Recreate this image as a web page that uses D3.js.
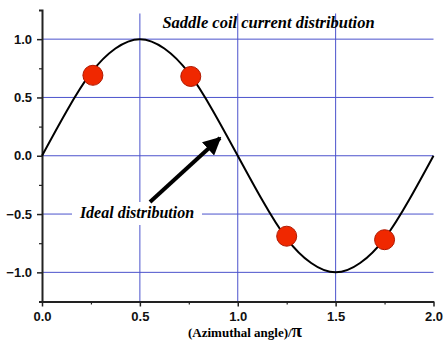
<!DOCTYPE html>
<html>
<head>
<meta charset="utf-8">
<script src="https://cdn.jsdelivr.net/npm/d3@7"></script>
<style>
  body { margin: 0; background: #fff; }
  svg { display: block; }
  .tk text { font-family: "Liberation Sans", Arial, sans-serif; font-weight: bold; font-size: 13px; fill: #111; }
  .serif { font-family: "Liberation Serif", "Times New Roman", serif; font-weight: bold; }
  .it { font-style: italic; }
</style>
</head>
<body>
<svg id="chart" width="444" height="347"></svg>
<script>
// ideal distribution, every 0.125
const curveX = [0, 0.125, 0.25, 0.375, 0.5, 0.625, 0.75, 0.875, 1.0, 1.125, 1.25, 1.375, 1.5, 1.625, 1.75, 1.875, 2.0];
const curveY = [0, 0.38, 0.71, 0.92, 1.0, 0.92, 0.71, 0.38, 0, -0.38, -0.71, -0.92, -1.0, -0.92, -0.71, -0.38, 0];
// measured saddle coil points
const pointX = [0.26, 0.76, 1.25, 1.75];
const pointY = [0.69, 0.68, -0.69, -0.72];
const xTicks = [0, 0.5, 1.0, 1.5, 2.0];
const yTicks = [-1.0, -0.5, 0, 0.5, 1.0];
const xMinor = [0.25, 0.75, 1.25, 1.75];
const yMinor = [-0.75, -0.25, 0.25, 0.75];

const svg = d3.select('#chart');
const x = d3.scaleLinear().domain([0, 2]).range([42, 433.5]);
const y = d3.scaleLinear().domain([-1.25, 1.25]).range([301.5, 10]);
const gridColor = '#4b52cc';
const fmt = d3.format('.1f');

// grid
svg.append('g')
  .selectAll('line')
  .data(yTicks)
  .join('line')
  .attr('x1', x(0)).attr('x2', x(2))
  .attr('y1', d => y(d)).attr('y2', d => y(d))
  .attr('stroke', gridColor).attr('stroke-width', 1);

svg.append('g')
  .selectAll('line')
  .data([0.5, 1.0, 1.5])
  .join('line')
  .attr('x1', d => x(d)).attr('x2', d => x(d))
  .attr('y1', y(1.22)).attr('y2', y(-1.25))
  .attr('stroke', gridColor).attr('stroke-width', 1);

// axes
svg.append('g')
  .attr('class', 'tk')
  .attr('transform', `translate(0,${y(-1.25)})`)
  .call(d3.axisBottom(x).tickValues(xTicks).tickFormat(fmt).tickSize(5).tickSizeOuter(0).tickPadding(5))
  .call(g => g.attr('font-family', null).attr('font-size', null))
  .call(g => g.select('.domain').attr('stroke', '#222').attr('stroke-width', 2))
  .call(g => g.selectAll('.tick line').attr('stroke', '#222').attr('stroke-width', 1.5));

svg.append('g')
  .attr('transform', `translate(0,${y(-1.25)})`)
  .call(d3.axisBottom(x).tickValues(xMinor).tickFormat('').tickSize(3))
  .call(g => g.select('.domain').remove())
  .call(g => g.selectAll('.tick line').attr('stroke', '#222').attr('stroke-width', 1.2));

svg.append('g')
  .attr('class', 'tk')
  .attr('transform', `translate(${x(0)},0)`)
  .call(d3.axisLeft(y).tickValues(yTicks).tickFormat(fmt).tickSize(5).tickSizeOuter(3).tickPadding(5))
  .call(g => g.attr('font-family', null).attr('font-size', null))
  .call(g => g.select('.domain').attr('stroke', '#222').attr('stroke-width', 2))
  .call(g => g.selectAll('.tick line').attr('stroke', '#222').attr('stroke-width', 1.5));

svg.append('g')
  .attr('transform', `translate(${x(0)},0)`)
  .call(d3.axisLeft(y).tickValues(yMinor).tickFormat('').tickSize(3))
  .call(g => g.select('.domain').remove())
  .call(g => g.selectAll('.tick line').attr('stroke', '#222').attr('stroke-width', 1.2));

// ideal curve
const line = d3.line()
  .x(d => x(d[0]))
  .y(d => y(d[1]))
  .curve(d3.curveNatural);

svg.append('path')
  .datum(d3.zip(curveX, curveY))
  .attr('d', line)
  .attr('fill', 'none')
  .attr('stroke', '#000')
  .attr('stroke-width', 2);

// points
svg.append('g')
  .selectAll('circle')
  .data(d3.zip(pointX, pointY))
  .join('circle')
  .attr('cx', d => x(d[0]))
  .attr('cy', d => y(d[1]))
  .attr('r', 10)
  .attr('fill', '#f02800')
  .attr('stroke', '#b01800')
  .attr('stroke-width', 1);

// label with white box
svg.append('rect')
  .attr('x', 72).attr('y', 202).attr('width', 130).attr('height', 23)
  .attr('fill', '#fff');

svg.append('text')
  .attr('class', 'serif it')
  .attr('x', 137).attr('y', 218)
  .attr('text-anchor', 'middle')
  .style('font-size', '16px')
  .text('Ideal distribution');

// arrow
svg.append('defs').append('marker')
  .attr('id', 'head')
  .attr('viewBox', '0 0 10 10')
  .attr('refX', 9).attr('refY', 5)
  .attr('markerWidth', 4.5).attr('markerHeight', 4.5)
  .attr('markerUnits', 'strokeWidth')
  .attr('orient', 'auto')
  .append('path')
  .attr('d', 'M0,0 L10,5 L0,10 Z')
  .attr('fill', '#000');

svg.append('line')
  .attr('x1', 150).attr('y1', 202)
  .attr('x2', 220).attr('y2', 138)
  .attr('stroke', '#000').attr('stroke-width', 4)
  .attr('marker-end', 'url(#head)');

svg.append('text')
  .attr('class', 'serif it')
  .attr('x', 268.5).attr('y', 28)
  .attr('text-anchor', 'middle')
  .style('font-size', '16.5px')
  .text('Saddle coil current distribution');

const title = svg.append('text')
  .attr('class', 'serif')
  .attr('x', 245).attr('y', 337)
  .attr('text-anchor', 'middle')
  .style('font-size', '13px');
title.append('tspan').text('(Azimuthal angle)/');
title.append('tspan').style('font-size', '19px').text('π');
</script>
</body>
</html>
